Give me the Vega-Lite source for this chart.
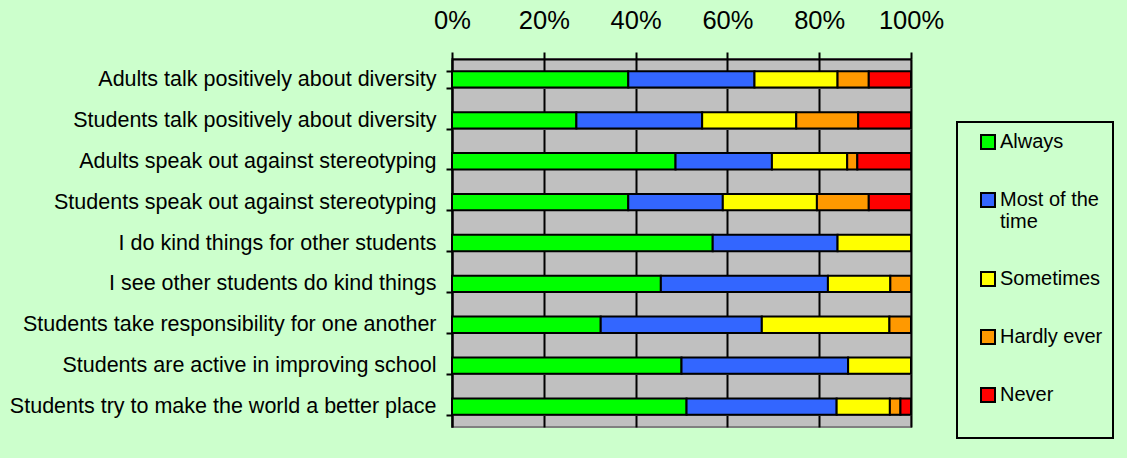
{
  "$schema": "https://vega.github.io/schema/vega-lite/v6.json",
  "width": 459,
  "height": 368,
  "autosize": {"type": "none"},
  "padding": {"left": 452, "top": 59, "right": 216, "bottom": 31},
  "background": "#CCFFCC",
  "config": {
    "view": {"fill": "#C0C0C0", "stroke": "#808080", "strokeWidth": 2},
    "font": "Liberation Sans"
  },
  "data": {
    "values": [
      {"q": "Adults talk positively about diversity", "r": "Always", "o": 1, "v": 38.4},
      {"q": "Adults talk positively about diversity", "r": "Most of the time", "o": 2, "v": 27.5},
      {"q": "Adults talk positively about diversity", "r": "Sometimes", "o": 3, "v": 18.1},
      {"q": "Adults talk positively about diversity", "r": "Hardly ever", "o": 4, "v": 6.8},
      {"q": "Adults talk positively about diversity", "r": "Never", "o": 5, "v": 9.2},
      {"q": "Students talk positively about diversity", "r": "Always", "o": 1, "v": 27.1},
      {"q": "Students talk positively about diversity", "r": "Most of the time", "o": 2, "v": 27.4},
      {"q": "Students talk positively about diversity", "r": "Sometimes", "o": 3, "v": 20.5},
      {"q": "Students talk positively about diversity", "r": "Hardly ever", "o": 4, "v": 13.5},
      {"q": "Students talk positively about diversity", "r": "Never", "o": 5, "v": 11.5},
      {"q": "Adults speak out against stereotyping", "r": "Always", "o": 1, "v": 48.7},
      {"q": "Adults speak out against stereotyping", "r": "Most of the time", "o": 2, "v": 21.0},
      {"q": "Adults speak out against stereotyping", "r": "Sometimes", "o": 3, "v": 16.4},
      {"q": "Adults speak out against stereotyping", "r": "Hardly ever", "o": 4, "v": 2.2},
      {"q": "Adults speak out against stereotyping", "r": "Never", "o": 5, "v": 11.7},
      {"q": "Students speak out against stereotyping", "r": "Always", "o": 1, "v": 38.4},
      {"q": "Students speak out against stereotyping", "r": "Most of the time", "o": 2, "v": 20.6},
      {"q": "Students speak out against stereotyping", "r": "Sometimes", "o": 3, "v": 20.5},
      {"q": "Students speak out against stereotyping", "r": "Hardly ever", "o": 4, "v": 11.3},
      {"q": "Students speak out against stereotyping", "r": "Never", "o": 5, "v": 9.2},
      {"q": "I do kind things for other students", "r": "Always", "o": 1, "v": 56.8},
      {"q": "I do kind things for other students", "r": "Most of the time", "o": 2, "v": 27.2},
      {"q": "I do kind things for other students", "r": "Sometimes", "o": 3, "v": 16.0},
      {"q": "I see other students do kind things", "r": "Always", "o": 1, "v": 45.5},
      {"q": "I see other students do kind things", "r": "Most of the time", "o": 2, "v": 36.4},
      {"q": "I see other students do kind things", "r": "Sometimes", "o": 3, "v": 13.6},
      {"q": "I see other students do kind things", "r": "Hardly ever", "o": 4, "v": 4.5},
      {"q": "Students take responsibility for one another", "r": "Always", "o": 1, "v": 32.4},
      {"q": "Students take responsibility for one another", "r": "Most of the time", "o": 2, "v": 35.1},
      {"q": "Students take responsibility for one another", "r": "Sometimes", "o": 3, "v": 27.8},
      {"q": "Students take responsibility for one another", "r": "Hardly ever", "o": 4, "v": 4.7},
      {"q": "Students are active in improving school", "r": "Always", "o": 1, "v": 50.0},
      {"q": "Students are active in improving school", "r": "Most of the time", "o": 2, "v": 36.3},
      {"q": "Students are active in improving school", "r": "Sometimes", "o": 3, "v": 13.7},
      {"q": "Students try to make the world a better place", "r": "Always", "o": 1, "v": 51.1},
      {"q": "Students try to make the world a better place", "r": "Most of the time", "o": 2, "v": 32.7},
      {"q": "Students try to make the world a better place", "r": "Sometimes", "o": 3, "v": 11.6},
      {"q": "Students try to make the world a better place", "r": "Hardly ever", "o": 4, "v": 2.3},
      {"q": "Students try to make the world a better place", "r": "Never", "o": 5, "v": 2.3}
    ]
  },
  "mark": {"type": "bar", "stroke": "black", "strokeWidth": 2},
  "encoding": {
    "y": {
      "field": "q",
      "type": "nominal",
      "sort": [
        "Adults talk positively about diversity",
        "Students talk positively about diversity",
        "Adults speak out against stereotyping",
        "Students speak out against stereotyping",
        "I do kind things for other students",
        "I see other students do kind things",
        "Students take responsibility for one another",
        "Students are active in improving school",
        "Students try to make the world a better place"
      ],
      "scale": {"paddingInner": 0.6, "paddingOuter": 0.3},
      "axis": {
        "title": null,
        "labelFontSize": 21.5,
        "labelColor": "black",
        "labelPadding": 10,
        "labelLimit": 500,
        "tickSize": 6,
        "tickColor": "black",
        "tickWidth": 2,
        "tickBand": "extent",
        "domainColor": "black",
        "domainWidth": 2,
        "grid": true,
        "gridColor": "#808080",
        "gridWidth": 1,
        "gridOpacity": 1
      }
    },
    "x": {
      "field": "v",
      "type": "quantitative",
      "stack": "normalize",
      "scale": {"domain": [0, 1]},
      "axis": {
        "orient": "top",
        "title": null,
        "format": "%",
        "values": [0, 0.2, 0.4, 0.6, 0.8, 1],
        "labelFontSize": 25.5,
        "labelColor": "black",
        "labelPadding": 19,
        "labelFlush": false,
        "labelOverlap": false,
        "tickSize": 7,
        "tickColor": "black",
        "tickWidth": 2,
        "domainColor": "black",
        "domainWidth": 2,
        "grid": true,
        "gridColor": "black",
        "gridWidth": 2,
        "gridOpacity": 1
      }
    },
    "color": {
      "field": "r",
      "type": "nominal",
      "scale": {
        "domain": ["Always", "Most of the time", "Sometimes", "Hardly ever", "Never"],
        "range": ["#00FF00", "#3366FF", "#FFFF00", "#FF9900", "#FF0000"]
      },
      "legend": {
        "orient": "none",
        "legendX": 505,
        "legendY": 63,
        "title": "\u00a0",
        "titleOrient": "bottom",
        "titleFontSize": 20,
        "titlePadding": 2,
        "padding": 10,
        "strokeColor": "black",
        "fillColor": "#CCFFCC",
        "symbolType": "square",
        "symbolSize": 196,
        "symbolStrokeColor": "black",
        "symbolStrokeWidth": 2,
        "symbolOffset": 11,
        "labelFontSize": 20,
        "labelColor": "black",
        "labelOffset": 2,
        "labelLimit": 300,
        "rowPadding": 36,
        "labelExpr": "datum.label == 'Most of the time' ? ['Most of the', 'time'] : datum.label",
        "encode": {"legend": {"update": {"strokeWidth": {"value": 2}}}}
      }
    },
    "order": {"field": "o", "type": "quantitative"}
  }
}
